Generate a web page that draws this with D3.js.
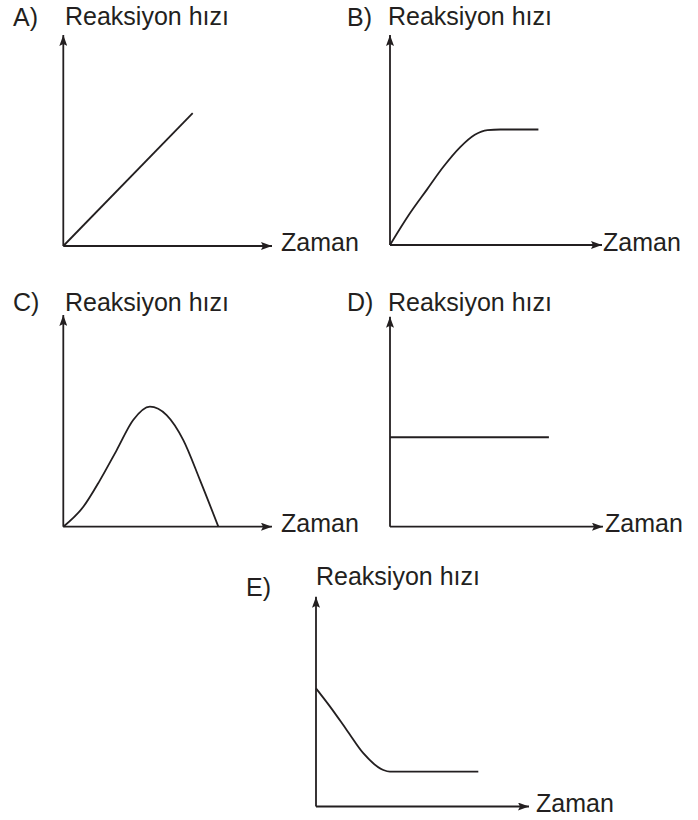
<!DOCTYPE html>
<html>
<head>
<meta charset="utf-8">
<script src="https://cdn.jsdelivr.net/npm/d3@7"></script>
<style>
  html, body { margin: 0; padding: 0; background: #ffffff; }
  svg { display: block; }
  text { font-family: "Liberation Sans", Arial, Helvetica, sans-serif; fill: #231f20; }
</style>
</head>
<body>
<svg id="chart" width="698" height="820"></svg>
<script>
// ---------- data ----------
const panelLetters = ["A)", "B)", "C)", "D)", "E)"];
const yAxisTitle = "Reaksiyon hızı";
const xAxisTitle = "Zaman";

// Time (x) and reaction rate (y) readings for each panel, axis units 0..10
const timeA = [0, 6.2];
const rateA = [0, 6.3];

const timeB = [0, 0.9, 1.75, 2.5, 3.3, 4.0, 4.6, 5.2, 7.0];
const rateB = [0, 1.45, 2.65, 3.7, 4.65, 5.25, 5.47, 5.5, 5.5];

const timeC = [0, 0.96, 1.76, 2.56, 3.35, 4.15, 4.95, 5.75, 6.55, 7.43];
const rateC = [0, 0.94, 2.2, 3.62, 5.04, 5.67, 5.27, 4.09, 2.2, 0];

const timeD = [0, 7.46];
const rateD = [4.26, 4.26];

const timeE = [0, 0.66, 1.44, 2.22, 3.16, 3.47, 7.62];
const rateE = [5.63, 4.76, 3.65, 2.54, 1.74, 1.66, 1.66];

const seriesTimes = [timeA, timeB, timeC, timeD, timeE];
const seriesRates = [rateA, rateB, rateC, rateD, rateE];

// ---------- layout (pixel geometry, styles) ----------
const layout = [
  { ox: 63.3, oy: 246,   tx: 272, ty: 35,    letterX: 13,  letterY: 25.5, titleX: 65,  titleY: 25,  zamanX: 281, zamanY: 250.5 },
  { ox: 390,  oy: 245,   tx: 602, ty: 35,    letterX: 347, letterY: 25.5, titleX: 388, titleY: 25,  zamanX: 603, zamanY: 250.5 },
  { ox: 63.3, oy: 526.7, tx: 272, ty: 315,   letterX: 13,  letterY: 311,  titleX: 65,  titleY: 310.5, zamanX: 281, zamanY: 531.5 },
  { ox: 390,  oy: 526.7, tx: 603, ty: 316.7, letterX: 347, letterY: 311,  titleX: 388, titleY: 310.5, zamanX: 605, zamanY: 531.5 },
  { ox: 316,  oy: 806.5, tx: 529, ty: 596.7, letterX: 246, letterY: 596,  titleX: 316, titleY: 585, zamanX: 536, zamanY: 811.5 }
];
const ink = "#231f20";
const fontSize = 25;
const strokeW = 1.8;

const svg = d3.select("#chart");

svg.append("defs").append("marker")
  .attr("id", "arrow")
  .attr("viewBox", "0 0 11 8")
  .attr("refX", 11)
  .attr("refY", 4)
  .attr("markerWidth", 11)
  .attr("markerHeight", 8)
  .attr("markerUnits", "userSpaceOnUse")
  .attr("orient", "auto")
  .append("path")
  .attr("d", "M0,0 L11,4 L0,8 L2,4 Z")
  .attr("fill", ink);

const line = d3.line().curve(d3.curveMonotoneX);

layout.forEach((L, i) => {
  const x = d3.scaleLinear().domain([0, 10]).range([L.ox, L.tx]);
  const y = d3.scaleLinear().domain([0, 10]).range([L.oy, L.ty]);
  const g = svg.append("g");

  // axes
  g.append("line")
    .attr("x1", x(0)).attr("y1", y(0))
    .attr("x2", x(10)).attr("y2", y(0))
    .attr("stroke", ink).attr("stroke-width", strokeW)
    .attr("marker-end", "url(#arrow)");
  g.append("line")
    .attr("x1", x(0)).attr("y1", y(0))
    .attr("x2", x(0)).attr("y2", y(10))
    .attr("stroke", ink).attr("stroke-width", strokeW)
    .attr("marker-end", "url(#arrow)");

  // curve
  const pts = seriesTimes[i].map((t, k) => [x(t), y(seriesRates[i][k])]);
  g.append("path")
    .attr("d", line(pts))
    .attr("fill", "none")
    .attr("stroke", ink)
    .attr("stroke-width", strokeW)
    .attr("stroke-linejoin", "round");

  // labels
  g.append("text").attr("x", L.letterX).attr("y", L.letterY)
    .attr("font-size", fontSize).text(panelLetters[i]);
  g.append("text").attr("x", L.titleX).attr("y", L.titleY)
    .attr("font-size", fontSize).text(yAxisTitle);
  g.append("text").attr("x", L.zamanX).attr("y", L.zamanY)
    .attr("font-size", fontSize).text(xAxisTitle);
});
</script>
</body>
</html>
